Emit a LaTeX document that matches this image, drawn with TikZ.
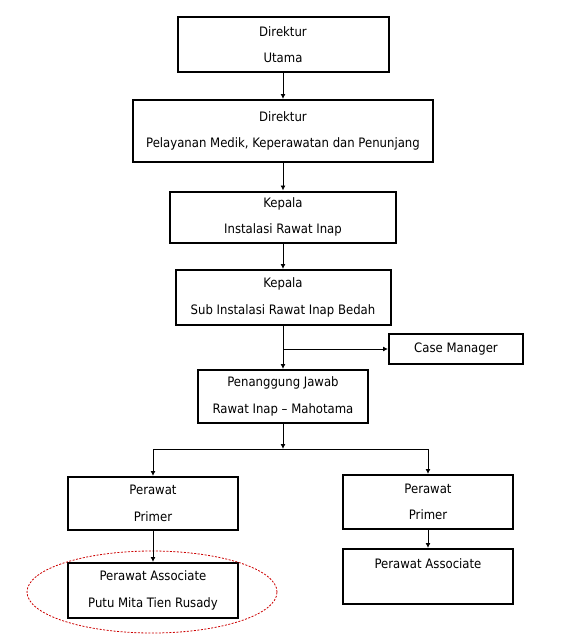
\documentclass[tikz,border=0pt]{standalone}
\usepackage{fontspec}
\setmainfont{DejaVu Sans Condensed}
\usetikzlibrary{arrows.meta}

\begin{document}
\begin{tikzpicture}[x=1pt,y=-1pt,
    kotak/.style={draw,line width=2pt,inner sep=0pt,align=center,
        font=\fontsize{13}{26.5}\selectfont},
    panah/.style={line width=0.9pt,-{Latex[length=5pt,width=5pt]}},
    garis/.style={line width=0.9pt}]
            \useasboundingbox (0,0) rectangle (562,637);
            % struktur utama
            \node[kotak,minimum width=211pt,minimum height=55pt] (dirut) at (283,44.5) {Direktur\\Utama};
            \node[kotak,minimum width=300pt,minimum height=62pt] (dirmed) at (283,131) {Direktur\\Pelayanan Medik, Keperawatan dan Penunjang};
            \node[kotak,minimum width=226pt,minimum height=51pt] (kains) at (283,217) {Kepala\\Instalasi Rawat Inap};
            \node[kotak,minimum width=215pt,minimum height=55pt] (kasub) at (283,297.5) {Kepala\\Sub Instalasi Rawat Inap Bedah};
            \node[kotak,minimum width=134pt,minimum height=30pt] (cm) at (456,349) {Case Manager};
            \node[kotak,minimum width=170pt,minimum height=53pt] (pj) at (283,396.5) {Penanggung Jawab\\Rawat Inap -- Mahotama};
            % perawat
            \node[kotak,minimum width=170pt,minimum height=53pt] (pp1) at (153,503.5) {Perawat\\Primer};
            \node[kotak,minimum width=170pt,minimum height=55pt] (pa1) at (153,590.5) {Perawat Associate\\Putu Mita Tien Rusady};
            \node[kotak,minimum width=170pt,minimum height=54pt] (pp2) at (428,502) {Perawat\\Primer};
            \node[kotak,minimum width=170pt,minimum height=55pt] (pa2) at (428,576.5) {Perawat Associate\\\mbox{}};
            \draw[red!80!black,line width=0.8pt,dash pattern=on 2pt off 1.5pt] (152,592) ellipse [x radius=125pt,y radius=41pt];
            % garis
            \coordinate (cabang) at (283,349);
            \coordinate (bagi) at (283,449);
            \draw[panah] (dirut) -- (dirmed);
            \draw[panah] (dirmed) -- (kains);
            \draw[panah] (kains) -- (kasub);
            \draw[panah] (kasub) -- (pj);
            \draw[panah] (cabang) -- (cm);
            \draw[panah] (pj) -- (bagi);
            \draw[panah] (bagi) -| (pp1);
            \draw[panah] (bagi) -| (pp2);
            \draw[panah] (pp1) -- (pa1);
            \draw[panah] (pp2) -- (pa2);
        \end{tikzpicture}
\end{document}
